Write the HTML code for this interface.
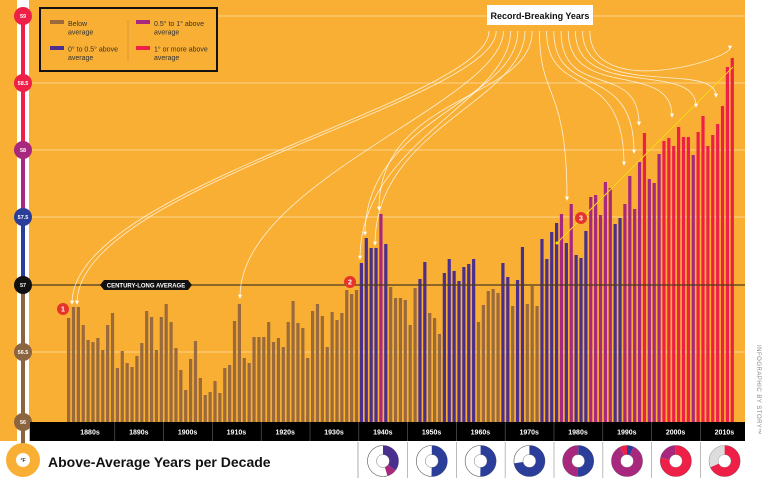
<!DOCTYPE html>
<html><head><meta charset="utf-8"><style>
html,body{margin:0;padding:0;background:#fff;}
svg{display:block;font-family:"Liberation Sans",sans-serif;}
</style></head><body>
<svg id="s" width="768" height="480" viewBox="0 0 768 480" xmlns="http://www.w3.org/2000/svg">
<rect x="0" y="0" width="745" height="441" fill="#F9AF33"/>
<rect x="0" y="441" width="768" height="39" fill="#fff"/>
<g stroke="#fff" stroke-opacity="0.45" stroke-width="1">
<line x1="218" y1="16" x2="745" y2="16"/><line x1="30" y1="83" x2="745" y2="83"/>
<line x1="30" y1="150" x2="745" y2="150"/><line x1="30" y1="217" x2="745" y2="217"/>
<line x1="30" y1="352" x2="745" y2="352"/>
</g>
<g id="bars"></g>
<line x1="30" y1="285" x2="745" y2="285" stroke="#4a3a20" stroke-width="1.2"/>
<polygon points="100,285 104,280 188,280 192,285 188,290 104,290" fill="#111"/>
<text x="146" y="287.5" font-size="6" font-weight="bold" fill="#fff" text-anchor="middle">CENTURY-LONG AVERAGE</text>
<line x1="557" y1="243" x2="733" y2="67" stroke="#F7D81C" stroke-width="1"/>
<circle cx="557" cy="243" r="1.5" fill="#F7D81C"/>
<g id="arrows" fill="none" stroke="#fff" stroke-opacity="0.8" stroke-width="0.8"></g>
<rect x="487" y="5" width="106" height="20" fill="#fff"/>
<text x="540" y="19" font-size="9" font-weight="bold" text-anchor="middle" fill="#111">Record-Breaking Years</text>
<g fill="#E5352B"><circle cx="63" cy="309" r="6"/><circle cx="350" cy="282" r="6"/><circle cx="581" cy="218" r="6"/></g>
<g fill="#fff" font-size="7" font-weight="bold" text-anchor="middle"><text x="63" y="311.5">1</text><text x="350" y="284.5">2</text><text x="581" y="220.5">3</text></g>
<!-- legend -->
<rect x="40" y="8" width="177" height="63" fill="none" stroke="#111" stroke-width="2"/>
<line x1="128" y1="20" x2="128" y2="62" stroke="#8a6a30" stroke-width="0.6" stroke-dasharray="1,1"/>
<g font-size="7" fill="#333">
<rect x="50" y="20" width="14" height="4" fill="#9A6A3C"/><text x="68" y="26">Below</text><text x="68" y="34.5">average</text>
<rect x="50" y="46" width="14" height="4" fill="#4A2F8E"/><text x="68" y="51.5">0° to 0.5° above</text><text x="68" y="60">average</text>
<rect x="136" y="20" width="14" height="4" fill="#A8287E"/><text x="154" y="26">0.5° to 1° above</text><text x="154" y="34.5">average</text>
<rect x="136" y="46" width="14" height="4" fill="#EE2048"/><text x="154" y="51.5">1° or more above</text><text x="154" y="60">average</text>
</g>
<!-- thermometer -->
<rect x="17" y="0" width="12" height="442" fill="#fff"/>
<rect x="21" y="16" width="4" height="134" fill="#EE2048"/>
<rect x="21" y="150" width="4" height="67" fill="#A8287E"/>
<rect x="21" y="217" width="4" height="68" fill="#2B3E9A"/>
<rect x="21" y="285" width="4" height="160" fill="#8B6440"/>
<circle cx="23" cy="460" r="17" fill="#F9AF33"/>
<circle cx="23" cy="460" r="7" fill="#fff"/>
<text x="23" y="462" font-size="5" font-weight="bold" text-anchor="middle" fill="#333">°F</text>
<g font-size="5.5" font-weight="bold" fill="#fff" text-anchor="middle">
<circle cx="23" cy="16" r="9" fill="#EE2048"/><text x="23" y="18">59</text>
<circle cx="23" cy="83" r="9" fill="#EE2048"/><text x="23" y="85">58.5</text>
<circle cx="23" cy="150" r="9" fill="#A8287E"/><text x="23" y="152">58</text>
<circle cx="23" cy="217" r="9" fill="#2B3E9A"/><text x="23" y="219">57.5</text>
<circle cx="23" cy="285" r="9" fill="#111"/><text x="23" y="287">57</text>
<circle cx="23" cy="352" r="9" fill="#8B6440"/><text x="23" y="354">56.5</text>
<circle cx="23" cy="422" r="9" fill="#8B6440"/><text x="23" y="424">56</text>
</g>
<rect x="30" y="422" width="715" height="19" fill="#000"/>
<g id="dec"></g>
<text x="48" y="467" font-size="14" font-weight="bold" fill="#111">Above-Average Years per Decade</text>
<line x1="358" y1="442" x2="358" y2="478" stroke="#999" stroke-width="0.8"/>
<g id="donuts"></g>
<text transform="translate(757,345) rotate(90)" font-size="6" fill="#888" letter-spacing="0.5">INFOGRAPHIC BY STORY™</text>
</svg>
<script>
var t=[318,307,307,325,340,342,338,350,325,313,368,351,363,367,356,343,311,317,350,317,304,322,348,370,390,359,341,378,395,392,381,393,368,365,321,304,358,363,337,337,337,322,342,338,347,322,301,323,328,358,311,304,316,347,312,320,313,290,294,290,
263,238,248,248,214,244,287,298,298,300,325,288,279,262,313,318,334,273,259,271,281,267,264,259,322,305,291,289,293,263,277,306,280,247,304,286,306,239,259,232,223,
214,243,204,255,258,231,197,195,215,182,188,224,218,204,176,209,162,133,179,183,154,141,138,146,127,137,137,155,132,116,146,135,124,106,67,58];
var NS="http://www.w3.org/2000/svg";
function el(p,n,a){var e=document.createElementNS(NS,n);for(var k in a)e.setAttribute(k,a[k]);p.appendChild(e);return e;}
var b=document.getElementById('bars');
for(var i=0;i<t.length;i++){var y=t[i];var c=y>285?'#9A6A3C':y>217?'#4A2F8E':y>150?'#A8287E':'#EE2048';
el(b,'rect',{x:(67+i*4.88).toFixed(2),y:y,width:3.2,height:422-y,fill:c});}
var d=document.getElementById('dec');
for(var k=0;k<14;k++){var x0=67+k*48.8-1;if(k>0)el(d,'line',{x1:x0,y1:422,x2:x0,y2:441,stroke:'#666','stroke-width':0.6});
var tx=el(d,'text',{x:x0+24,y:434.5,'font-size':7,'font-weight':'bold',fill:'#fff','text-anchor':'middle'});tx.textContent=(1880+k*10)+'s';
if(k>=7){el(d,'line',{x1:x0,y1:442,x2:x0,y2:478,stroke:'#aaa','stroke-width':0.8});}}
var A=document.getElementById('arrows');
var tg=[[72,307],[77,307],[240,301],[360,262],[365,238],[375,248],[379,213],[567,203],[624,168],[634,156],[639,128],[672,120],[696,110],[716,100],[730,52]];
for(var j=0;j<tg.length;j++){var sx=489+j*7.2,sy=31,tx2=tg[j][0],ty=tg[j][1];
el(A,'path',{d:'M'+sx+','+sy+' C'+sx+','+(sy+70)+' '+tx2+','+(ty-120>60?ty-120:60)+' '+tx2+','+(ty-4)});
el(A,'polygon',{points:(tx2-1.5)+','+(ty-6)+' '+(tx2+1.5)+','+(ty-6)+' '+tx2+','+(ty-3),fill:'#fff'});}
var D=document.getElementById('donuts');
var dn=[[['#4A2F8E',.35],['#A8287E',.1]],[['#2B3E9A',.5]],[['#2B3E9A',.5]],[['#2B3E9A',.72]],[['#2B3E9A',.5],['#A8287E',.5]],[['#2B3E9A',.07],['#A8287E',.85],['#EE2048',.08]],[['#EE2048',.78],['#A8287E',.22]],[['#EE2048',.68],['#ddd',.32]]];
var C=2*Math.PI*11;
for(var q=0;q<8;q++){var cx=383+q*48.8,cy=461;
el(D,'circle',{cx:cx,cy:cy,r:15.5,fill:'none',stroke:'#555','stroke-width':0.6});
el(D,'circle',{cx:cx,cy:cy,r:6.5,fill:'none',stroke:'#555','stroke-width':0.4});
var off=0;dn[q].forEach(function(s){el(D,'circle',{cx:cx,cy:cy,r:11,fill:'none',stroke:s[0],'stroke-width':9,'stroke-dasharray':(s[1]*C)+' '+C,'stroke-dashoffset':-off*C,transform:'rotate(-90 '+cx+' '+cy+')'});off+=s[1];});}
</script>
</body></html>
